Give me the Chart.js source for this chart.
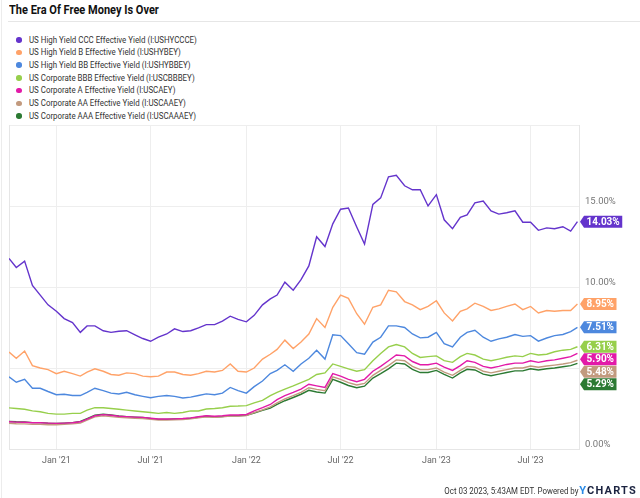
<!DOCTYPE html>
<html>
<head>
<meta charset="utf-8">
<script src="https://cdn.jsdelivr.net/npm/chart.js@4.4.1/dist/chart.umd.min.js"></script>
<style>
  html, body { margin: 0; padding: 0; background: #fff; }
  body { width: 640px; height: 498px; overflow: hidden; position: relative; font-family: Roboto, sans-serif; }
  #frame { position: absolute; left: 1px; top: 0; width: 1px; height: 498px; background: #ececec; }
  #title { position: absolute; left: 9px; top: 2px; font-weight: bold; font-size: 12.8px; color: #111; white-space: nowrap; transform-origin: left top; transform: scaleX(0.86); }
  #rule { position: absolute; left: 8px; right: 0; top: 21px; height: 1px; background: #e6e6e6; }
  #legend { position: absolute; left: 16px; top: 33.5px; }
  .item { height: 12.7px; line-height: 12.7px; white-space: nowrap; font-size: 9.2px; color: #333; position: relative; }
  .dot { position: absolute; left: 0; top: 3.6px; width: 5.5px; height: 5.5px; border-radius: 50%; }
  .txt { position: absolute; left: 13px; top: 0; transform-origin: left center; transform: scaleX(0.86); }
  #footer { position: absolute; right: 3px; top: 484px; font-size: 9px; color: #333; white-space: nowrap; display: flex; align-items: baseline; }
  #footer .t { transform-origin: right center; transform: scaleX(0.88); display: inline-block; }
  #footer .logo { font-weight: bold; font-size: 11px; letter-spacing: 1.2px; color: #1b2340; margin-left: 1px; }
  #footer .logo span { color: #2a8ae6; }
  canvas { position: absolute; left: 0; top: 0; }
</style>
</head>
<body>
<div id="frame"></div>
<div id="title">The Era Of Free Money Is Over</div>
<div id="rule"></div>
<div id="legend"></div>
<canvas id="c" width="640" height="498"></canvas>
<div id="footer"><span class="t">Oct 03 2023, 5:43AM EDT. Powered by</span><span class="logo"><span>Y</span>CHARTS</span></div>
<script>
const startDate = '2020-10-02';
const endDate = '2023-10-02';
const dates = [
  '2020-10-02','2020-10-16','2020-11-01','2020-11-16','2020-12-01','2020-12-16',
  '2021-01-01','2021-01-16','2021-02-01','2021-02-16','2021-03-01','2021-03-16','2021-04-01','2021-04-16','2021-05-01','2021-05-16','2021-06-01','2021-06-16',
  '2021-07-01','2021-07-16','2021-08-01','2021-08-16','2021-09-01','2021-09-16','2021-10-01','2021-10-16','2021-11-01','2021-11-16','2021-12-01','2021-12-16',
  '2022-01-01','2022-01-16','2022-02-01','2022-02-16','2022-03-01','2022-03-16','2022-04-01','2022-04-16','2022-05-01','2022-05-16','2022-06-01','2022-06-16',
  '2022-07-01','2022-07-16','2022-08-01','2022-08-16','2022-09-01','2022-09-16','2022-10-01','2022-10-16','2022-11-01','2022-11-16','2022-12-01','2022-12-16',
  '2023-01-01','2023-01-16','2023-02-01','2023-02-16','2023-03-01','2023-03-16','2023-04-01','2023-04-16','2023-05-01','2023-05-16','2023-06-01','2023-06-16',
  '2023-07-01','2023-07-16','2023-08-01','2023-08-16','2023-09-01','2023-09-16','2023-09-29'
];
const tickDates = ['2021-01-01','2021-07-01','2022-01-01','2022-07-01','2023-01-01','2023-07-01'];
const tickLabels = ["Jan '21","Jul '21","Jan '22","Jul '22","Jan '23","Jul '23"];
const yTickLabelsShown = [0, 10, 15];

const seriesNames = [
  'US High Yield CCC Effective Yield (I:USHYCCCE)',
  'US High Yield B Effective Yield (I:USHYBEY)',
  'US High Yield BB Effective Yield (I:USHYBBEY)',
  'US Corporate BBB Effective Yield (I:USCBBBEY)',
  'US Corporate A Effective Yield (I:USCAEY)',
  'US Corporate AA Effective Yield (I:USCAAEY)',
  'US Corporate AAA Effective Yield (I:USCAAAEY)'
];
const seriesColors = ['#6434cc','#ffa268','#4d88de','#97cf4c','#e21aa8','#c29a7e','#2c7a33'];

const ccc = [11.76,11.2,11.6,10.1,9.5,8.9,
  8.5,8.05,7.8,7.2,7.6,7.6,7.3,7.2,7.27,7.3,7.05,6.82,6.65,6.9,7.1,7.42,7.25,7.3,7.48,7.68,7.68,7.9,8.2,8.0,
  7.85,8.25,8.9,9.27,9.5,10.3,9.8,10.45,11.3,13.1,12.5,13.9,14.8,14.88,13.7,12.65,15.1,15.5,16.8,16.9,16.25,16.0,16.0,15.0,
  15.7,14.15,13.6,14.3,14.45,15.2,15.3,14.7,14.5,14.58,14.7,14.0,14.0,13.5,13.65,13.6,13.72,13.45,
  14.03];
const hyB = [5.98,5.6,6.05,5.15,5.0,4.9,
  4.65,4.8,4.65,4.5,4.75,4.95,4.8,4.6,4.55,4.7,4.65,4.5,4.46,4.5,4.75,4.75,4.6,4.55,4.65,4.8,4.75,4.85,5.25,4.8,
  4.75,5.0,5.55,5.85,6.15,6.72,6.2,6.6,7.1,8.05,7.5,8.75,9.5,9.3,8.35,7.7,8.75,8.9,9.8,9.7,9.1,8.9,8.6,8.8,
  9.15,8.4,7.9,8.5,8.65,9.0,8.8,8.55,8.65,8.8,8.95,8.6,8.8,8.4,8.55,8.5,8.55,8.55,
  8.95];
const hyBB = [4.46,4.12,4.3,3.75,3.75,3.55,
  3.35,3.38,3.3,3.3,3.5,3.75,3.6,3.45,3.4,3.5,3.35,3.25,3.16,3.25,3.3,3.25,3.15,3.2,3.3,3.4,3.35,3.45,3.8,3.6,
  3.45,3.85,4.2,4.66,4.85,5.2,4.8,5.25,5.6,6.1,5.55,7.05,7.0,6.5,5.95,5.85,6.6,6.9,7.6,7.6,7.5,7.1,6.86,6.9,
  7.2,6.5,6.3,6.9,7.2,7.33,6.9,6.65,6.8,6.9,7.07,6.95,7.0,6.66,6.85,7.0,7.07,7.25,
  7.51];
const corpBBB = [2.54,2.5,2.45,2.35,2.3,2.2,
  2.15,2.15,2.2,2.2,2.4,2.55,2.55,2.5,2.45,2.4,2.35,2.3,2.25,2.2,2.25,2.2,2.25,2.35,2.35,2.47,2.5,2.55,2.64,2.65,
  2.68,2.85,3.0,3.3,3.5,3.7,3.9,4.1,4.3,4.6,4.7,5.25,5.1,4.95,4.8,4.9,5.45,5.9,6.3,6.45,6.3,5.9,5.65,5.7,
  5.75,5.45,5.35,5.7,5.9,5.8,5.55,5.45,5.55,5.66,5.75,5.7,5.9,5.8,5.85,6.0,6.1,6.15,
  6.31];
const corpA = [1.68,1.66,1.65,1.62,1.62,1.6,
  1.58,1.6,1.62,1.68,1.85,2.05,2.12,2.08,2.02,2.0,1.97,1.95,1.9,1.85,1.85,1.86,1.88,1.92,1.99,2.05,2.02,2.05,2.1,2.1,
  2.13,2.35,2.55,2.75,3.05,3.3,3.5,3.7,4.0,3.9,3.8,4.65,4.5,4.3,4.15,4.3,4.8,5.1,5.45,5.8,5.75,5.4,5.2,5.2,
  5.3,5.05,4.85,5.15,5.45,5.35,5.1,5.0,5.1,5.22,5.3,5.3,5.45,5.35,5.45,5.5,5.6,5.7,
  5.90];
const corpAA = [1.58,1.56,1.55,1.52,1.52,1.5,
  1.5,1.52,1.55,1.6,1.78,1.98,2.05,2.0,1.95,1.93,1.9,1.88,1.83,1.78,1.78,1.8,1.82,1.86,1.93,1.98,1.95,1.98,2.03,2.03,
  2.06,2.25,2.42,2.6,2.85,3.1,3.3,3.5,3.78,3.68,3.6,4.45,4.3,4.1,3.95,4.05,4.55,4.85,5.15,5.5,5.45,5.1,4.9,4.9,
  5.0,4.75,4.55,4.85,5.1,5.05,4.8,4.7,4.8,4.9,5.0,5.0,5.12,5.05,5.12,5.18,5.25,5.33,
  5.48];
const corpAAA = [1.7,1.68,1.67,1.63,1.63,1.6,
  1.58,1.6,1.63,1.7,1.88,2.08,2.15,2.1,2.04,2.0,1.97,1.95,1.88,1.83,1.83,1.85,1.86,1.9,1.96,2.02,1.98,2.0,2.06,2.05,
  2.08,2.22,2.38,2.52,2.75,2.98,3.18,3.38,3.62,3.52,3.45,4.3,4.12,3.92,3.78,3.88,4.38,4.65,4.95,5.3,5.25,4.92,4.72,4.72,
  4.85,4.6,4.38,4.7,4.92,4.88,4.62,4.52,4.62,4.72,4.82,4.82,4.95,4.88,4.95,5.0,5.08,5.15,
  5.29];
const seriesValues = [ccc, hyB, hyBB, corpBBB, corpA, corpAA, corpAAA];

const DAY = 86400000;
const t0 = Date.parse(startDate);
const toDay = d => (Date.parse(d) - t0) / DAY;
const xDays = dates.map(toDay);
const tickDays = tickDates.map(toDay);

const legend = document.getElementById('legend');
seriesNames.forEach((n, i) => {
  const it = document.createElement('div'); it.className = 'item';
  const dot = document.createElement('span'); dot.className = 'dot'; dot.style.background = seriesColors[i];
  const tx = document.createElement('span'); tx.className = 'txt'; tx.textContent = n;
  it.appendChild(dot); it.appendChild(tx); legend.appendChild(it);
});

const frameBorder = {
  id: 'frameBorder',
  beforeDatasetsDraw(chart) {
    const a = chart.chartArea, ctx = chart.ctx;
    ctx.save();
    ctx.strokeStyle = '#e6e6e6'; ctx.lineWidth = 1;
    ctx.beginPath(); ctx.moveTo(a.left + 0.5, a.top); ctx.lineTo(a.left + 0.5, a.bottom); ctx.stroke();
    ctx.restore();
  }
};

const endTags = {
  id: 'endTags',
  afterDatasetsDraw(chart) {
    const ctx = chart.ctx, ys = chart.scales.y, a = chart.chartArea;
    const tags = chart.data.datasets.map((ds, i) => {
      const v = ds.data[ds.data.length - 1].y;
      return { v, y: ys.getPixelForValue(v), color: seriesColors[i] };
    }).sort((p, q) => p.y - q.y);
    const gap = 12.5;
    for (let i = 1; i < tags.length; i++) {
      if (tags[i].y < tags[i - 1].y + gap) tags[i].y = tags[i - 1].y + gap;
    }
    ctx.save();
    ctx.font = 'bold 10px Roboto';
    ctx.textBaseline = 'middle';
    ctx.textAlign = 'center';
    tags.forEach(t => {
      const txt = t.v.toFixed(2) + '%';
      const w = ctx.measureText(txt).width + 5;
      const x0 = a.right + 1, x1 = x0 + 4, h = 6;
      ctx.fillStyle = t.color;
      ctx.beginPath();
      ctx.moveTo(x0, t.y);
      ctx.lineTo(x1, t.y - h);
      ctx.lineTo(x1 + w, t.y - h);
      ctx.lineTo(x1 + w, t.y + h);
      ctx.lineTo(x1, t.y + h);
      ctx.closePath();
      ctx.fill();
      ctx.fillStyle = '#fff';
      ctx.fillText(txt, x1 + w / 2, t.y + 0.5);
    });
    ctx.restore();
  }
};

new Chart(document.getElementById('c'), {
  type: 'line',
  data: {
    datasets: seriesNames.map((n, i) => ({
      label: n,
      data: seriesValues[i].map((v, k) => ({ x: xDays[k], y: v })),
      borderColor: seriesColors[i],
      backgroundColor: seriesColors[i],
      borderWidth: 1.4,
      pointRadius: 0,
      tension: 0,
      fill: false
    }))
  },
  options: {
    responsive: false,
    animation: false,
    layout: { padding: { top: 125, left: 9, right: 0, bottom: 29 } },
    plugins: { legend: { display: false }, title: { display: false }, tooltip: { enabled: false } },
    scales: {
      x: {
        type: 'linear',
        min: 0,
        max: toDay(endDate),
        afterBuildTicks: axis => { axis.ticks = tickDays.map(v => ({ value: v })); },
        afterFit: axis => { axis.height = 20; },
        ticks: {
          autoSkip: false, maxRotation: 0, padding: 6,
          color: '#666', font: { family: 'Roboto', size: 9 },
          callback: (v, i) => tickLabels[i]
        },
        grid: { color: '#eeeeee', drawTicks: false },
        border: { color: '#e6e6e6' }
      },
      y: {
        position: 'right',
        min: 0,
        max: 20,
        afterFit: axis => { axis.width = 61; },
        ticks: {
          stepSize: 5, padding: 6, labelOffset: -4,
          color: '#777', font: { family: 'Roboto', size: 9.5 },
          callback: v => yTickLabelsShown.includes(v) ? v.toFixed(2) + '%' : ''
        },
        grid: { color: '#eeeeee', drawTicks: false },
        border: { color: '#e6e6e6' }
      }
    }
  },
  plugins: [frameBorder, endTags]
});
</script>
</body>
</html>
